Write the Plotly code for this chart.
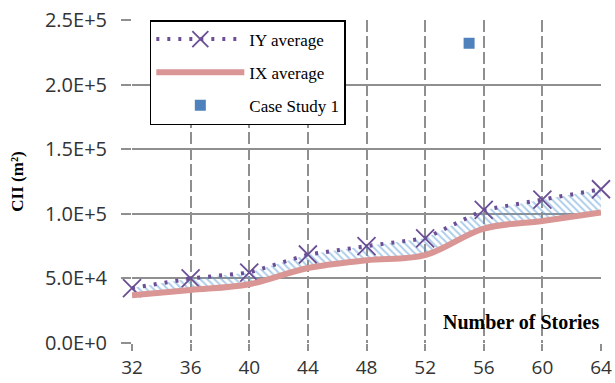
import plotly.graph_objects as go

stories = [32, 36, 40, 44, 48, 52, 56, 60, 64]
iy_avg = [42500, 50000, 54500, 68500, 75000, 81000, 103000, 111000, 119000]
ix_avg = [37000, 41000, 45500, 58000, 64000, 68000, 88500, 94500, 101000]
case_x = [55]
case_y = [232000]
y_ticks = [0, 50000, 100000, 150000, 200000, 250000]
y_tick_text = ["0.0E+0", "5.0E+4", "1.0E+5", "1.5E+5", "2.0E+5", "2.5E+5"]

purple = "#6b4f96"
pink = "#d99694"
blue = "#4f81bd"
serif = "Liberation Serif"
grid = "#8f8f8f"

fig = go.Figure()

# base for hatch fill (IX curve, hidden)
fig.add_trace(go.Scatter(
    x=stories, y=ix_avg, mode="lines", line=dict(width=0, shape="spline", color=pink),
    showlegend=False, hoverinfo="skip"))
# hatch fill up to IY
fig.add_trace(go.Scatter(
    x=stories, y=iy_avg, mode="lines", line=dict(width=0),
    fill="tonexty", fillcolor="rgba(0,0,0,0)",
    fillpattern=dict(shape="\\", fgcolor="#5b9bd5", bgcolor="rgba(255,255,255,0)",
                     size=5, solidity=0.4, fillmode="overlay"),
    showlegend=False, hoverinfo="skip"))

fig.add_trace(go.Scatter(
    x=stories, y=iy_avg, mode="lines+markers", name="IY average",
    line=dict(color=purple, width=4, dash="3px,8px"),
    marker=dict(symbol="x-thin", size=18, line=dict(color=purple, width=1.8), color=purple),
    cliponaxis=False, legendrank=1, legendgroup="a"))

fig.add_trace(go.Scatter(
    x=stories, y=ix_avg, mode="lines", name="IX average",
    line=dict(color=pink, width=6, shape="spline"),
    cliponaxis=False, legendrank=2, legendgroup="b"))

fig.add_trace(go.Scatter(
    x=case_x, y=case_y, mode="markers", name="Case Study 1",
    marker=dict(symbol="square", size=11, color=blue),
    legendrank=3, legendgroup="c"))

fig.update_layout(
    width=615, height=383,
    margin=dict(l=132, r=14, t=20, b=40, autoexpand=False),
    paper_bgcolor="white", plot_bgcolor="white",
    showlegend=True,
    legend=dict(x=0.038, y=1.0, xanchor="left", yanchor="top",
                bordercolor="black", borderwidth=1.5, bgcolor="white",
                font=dict(family=serif, size=17, color="black"),
                traceorder="grouped", itemwidth=88, tracegroupgap=8,
                entrywidth=200, entrywidthmode="pixels"),
    xaxis=dict(range=[32, 64], tickmode="array", tickvals=stories,
               showgrid=True, gridcolor=grid, griddash="12px,4px", gridwidth=1.5,
               zeroline=False, showline=False,
               ticks="outside", ticklen=7, tickcolor=grid, tickwidth=1.5,
               tickfont=dict(family="Open Sans", size=19, color="#333333")),
    yaxis=dict(range=[0, 250000], tickmode="array", tickvals=y_ticks, ticktext=y_tick_text,
               showgrid=True, gridcolor=grid, gridwidth=1.5,
               zeroline=False, showline=False,
               ticks="outside", ticklen=10, tickcolor=grid, tickwidth=1.5,
               ticklabelstandoff=10,
               tickfont=dict(family="Open Sans", size=20, color="#333333"),
               title=dict(text="<b>CII (m²)</b>", font=dict(family=serif, size=17, color="black"),
                          standoff=16)),
    annotations=[dict(text="<b>Number of Stories</b>", x=64, y=16000, xref="x", yref="y",
                      xanchor="right", yanchor="middle", showarrow=False,
                      font=dict(family=serif, size=20, color="black"))],
)

fig.write_html("out.html")
